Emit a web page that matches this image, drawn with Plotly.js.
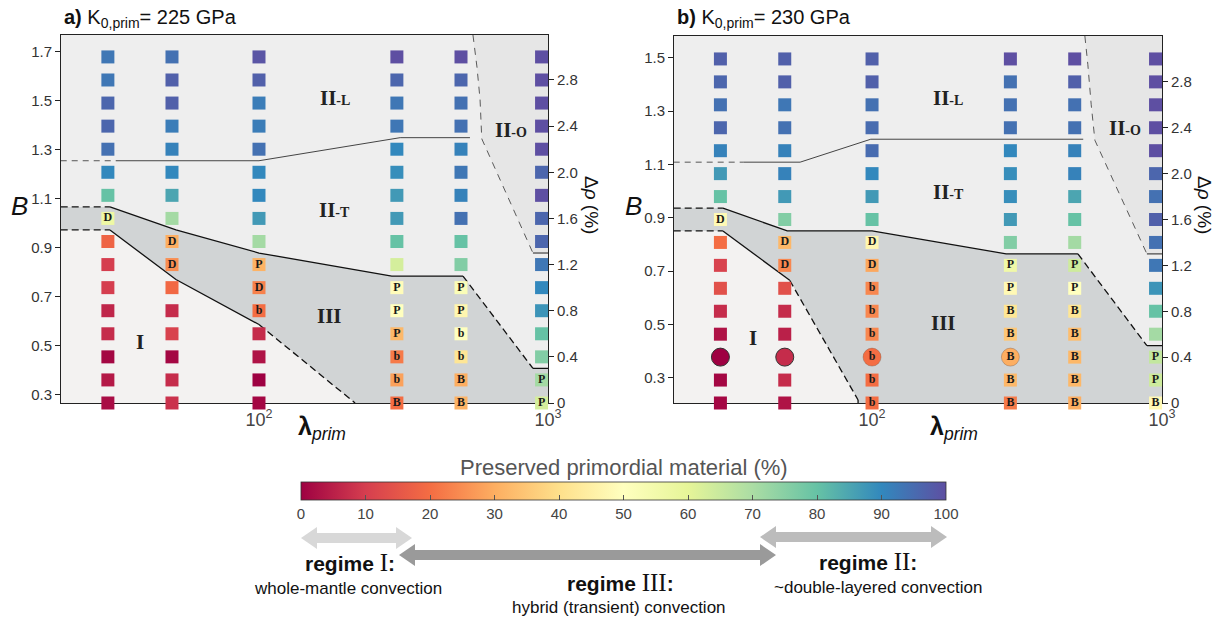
<!DOCTYPE html>
<html><head><meta charset="utf-8">
<script src="https://cdn.plot.ly/plotly-3.0.1.min.js"></script>
<style>html,body{margin:0;padding:0;background:#fff}</style>
</head><body><div id="chart" style="width:1221px;height:623px"></div>
<script>
const W = 1221, H = 623;

// ---------- data ----------
const lambdaCols = [30, 50, 100, 300, 500, 950];
const drhoRows = [0, 0.2, 0.4, 0.6, 0.8, 1.0, 1.2, 1.4, 1.6, 1.8, 2.0, 2.2, 2.4, 2.6, 2.8, 3.0];

// panel a (K0,prim = 225 GPa): preserved primordial material (%), rows bottom -> top
const a30  = [2, 4, 1, 7, 6, 10, 10, 18, 57, 80, 90, 94, 96, 96, 93, 93];
const a50  = [8, 7, 1, 11, 7, 19, 25, 30, 71, 85, 90, 91, 92, 97, 97, 94];
const a100 = [1, 0, 3, 7, 20, 23, 31, 71, 87, 90, 90, 94, 92, 92, 97, 99];
const a300 = [20, 28, 22, 32, 50, 49, 63, 80, 87, 87, 89, 90, 93, 93, 96, 100];
const a500 = [31, 30, 42, 50, 47, 52, 76, 80, 94, 91, 93, 91, 94, 94, 96, 100];
const a950 = [63, 71, 76, 80, 88, 90, 93, 96, 96, 100, 96, 100, 100, 100, 100, 100];
const labA30  = ['','','','','','','','','D','','','','','','',''];
const labA50  = ['','','','','','','D','D','','','','','','','',''];
const labA100 = ['','','','','b','D','P','','','','','','','','',''];
const labA300 = ['B','b','b','P','P','P','','','','','','','','','',''];
const labA500 = ['B','B','b','b','P','P','','','','','','','','','',''];
const labA950 = ['P','P','','','','','','','','','','','','','',''];

// panel b (K0,prim = 230 GPa)
const b30  = [1, 1, 0, 3, 7, 14, 11, 20, 48, 80, 87, 91, 96, 94, 96, 97];
const b50  = [3, 7, 7, 5, 7, 14, 24, 32, 76, 87, 91, 91, 94, 93, 97, 97];
const b100 = [20, 20, 20, 24, 24, 24, 29, 47, 80, 87, 90, 95, 95, 94, 97, 97];
const b300 = [22, 32, 30, 35, 42, 48, 56, 76, 87, 89, 89, 90, 94, 94, 94, 100];
const b500 = [30, 32, 32, 33, 42, 50, 64, 71, 80, 85, 91, 91, 94, 94, 97, 100];
const b950 = [48, 64, 66, 71, 80, 88, 93, 94, 97, 94, 96, 100, 100, 100, 100, 100];
const labB30  = ['','','','','','','','','D','','','','','','',''];
const labB50  = ['','','','','','','D','D','','','','','','','',''];
const labB100 = ['b','b','b','b','b','b','D','D','','','','','','','',''];
const labB300 = ['B','B','B','B','B','P','P','','','','','','','','',''];
const labB500 = ['B','B','B','B','B','P','P','','','','','','','','',''];
const labB950 = ['B','P','P','','','','','','','','','','','','',''];
const circleRowB = 0.4;
const circleColsB = [30, 50, 100, 300];

// regime boundaries (lambda, delta rho)
const aIIupLam = [20.6, 30.5, 51.6, 100, 288, 508], aIIupD = [1.7, 1.7, 1.5, 1.3, 1.1, 1.1];
const aIIIdashLam = [508, 887], aIIIdashD = [1.1, 0.3];
const aLowLam = [20.6, 30.5, 51.6, 100, 215], aLowD = [1.5, 1.5, 1.07, 0.68, 0];
const aLTLam = [20.6, 32, 100, 308, 537], aLTD = [2.1, 2.1, 2.1, 2.3, 2.3];
const aOLam = [550, 568, 582, 590, 887], aOD = [3.19, 2.91, 2.63, 2.29, 1.3];

const bIIupLam = [20.7, 30.6, 51, 100, 290, 513], bIIupD = [1.7, 1.7, 1.5, 1.5, 1.3, 1.3];
const bIIIdashLam = [513, 887], bIIIdashD = [1.3, 0.5];
const bLowLam = [20.7, 30.6, 52, 89.5, 89.5], bLowD = [1.5, 1.5, 1.07, 0.026, 0];
const bLTLam = [20.7, 36, 56.5, 99, 535], bLTD = [2.1, 2.1, 2.1, 2.3, 2.3];
const bOLam = [542, 555, 570, 587, 887], bOD = [3.2, 2.95, 2.6, 2.29, 1.3];

const cbTicks = [0, 10, 20, 30, 40, 50, 60, 70, 80, 90, 100];

// ---------- helpers ----------
const spectral = [[0,'#9e0142'],[0.1,'#d53e4f'],[0.2,'#f46d43'],[0.3,'#fdae61'],[0.4,'#fee08b'],
  [0.5,'#ffffbf'],[0.6,'#e6f598'],[0.7,'#abdda4'],[0.8,'#66c2a5'],[0.9,'#3288bd'],[1,'#5e4fa2']];
const px = x => x / W, py = y => 1 - y / H;
const L10 = Math.log10;

function markerTrace(cols, labs, xa, ya, circCols, circRow) {
  const x=[], y=[], c=[], t=[], sym=[], sz=[], lw=[], lc=[];
  lambdaCols.forEach((lam, i) => {
    drhoRows.forEach((d, j) => {
      const circ = circCols.includes(lam) && d === circRow;
      x.push(lam); y.push(d); c.push(cols[i][j]); t.push(labs[i][j]);
      sym.push(circ ? 'circle' : 'square'); sz.push(circ ? 18 : 13);
      lw.push(circ ? (cols[i][j] < 15 ? 1 : 0.6) : 0);
      lc.push(circ ? (cols[i][j] < 15 ? '#333' : 'rgba(120,80,60,0.6)') : 'rgba(0,0,0,0)');
    });
  });
  return {type:'scatter', mode:'markers+text', x, y, xaxis:xa, yaxis:ya, text:t,
    textposition:'middle center', cliponaxis:false, hoverinfo:'skip', showlegend:false,
    textfont:{family:'Liberation Serif', size:12, color:'#1a1a1a', weight:'bold'},
    marker:{symbol:sym, size:sz, opacity:1, color:c, coloraxis:'coloraxis', line:{width:lw, color:lc}}};
}
function fillTrace(xs, ys, col, xa, ya) {
  return {type:'scatter', mode:'lines', x:xs, y:ys, fill:'toself', fillcolor:col,
    line:{width:0}, xaxis:xa, yaxis:ya, hoverinfo:'skip', showlegend:false};
}
function lineTrace(xs, ys, xa, ya, dash, width, color) {
  return {type:'scatter', mode:'lines', x:xs, y:ys, xaxis:xa, yaxis:ya,
    line:{color:color||'#111', width:width||1.3, dash:dash||'solid'}, hoverinfo:'skip', showlegend:false};
}
// invisible anchor trace so that the B axis subplot exists
function anchorTrace(xa, ya, b) {
  return {type:'scatter', mode:'markers', x:[100], y:[b], xaxis:xa, yaxis:ya,
    marker:{size:1, opacity:0}, hoverinfo:'skip', showlegend:false};
}
function panelTraces(xa, ya, up, dashUp, low, lowSolidEnd, lt, o, lastLam) {
  const tr = [];
  tr.push(fillTrace([o[0][0], ...o[0], lastLam*1.2, lastLam*1.2], [3.5, ...o[1], o[1][o[1].length-1], 3.5], '#e6e6e6', xa, ya));
  const upL = [...up[0], ...dashUp[0].slice(1), lastLam*1.2, lastLam*1.2];
  const upD = [...up[1], ...dashUp[1].slice(1), dashUp[1][1], -0.2];
  const lowRevL = [...low[0]].reverse(), lowRevD = [...low[1]].reverse();
  tr.push(fillTrace([10, ...upL.slice(1), lowRevL[0], ...lowRevL, 10],
                    [up[1][0], ...upD.slice(1), -0.2, ...lowRevD, low[1][0]], '#d1d4d5', xa, ya));
  tr.push(fillTrace([10, ...low[0].slice(1), low[0][low[0].length-1], 10],
                    [low[1][0], ...low[1].slice(1), -0.2, -0.2], '#f3f2f1', xa, ya));
  const dsh = '7px,4px';
  tr.push(lineTrace(up[0].slice(0,2), up[1].slice(0,2), xa, ya, dsh));
  tr.push(lineTrace(up[0].slice(1), up[1].slice(1), xa, ya));
  tr.push(lineTrace(dashUp[0], dashUp[1], xa, ya, dsh));
  tr.push(lineTrace([dashUp[0][1], lastLam*1.2], [dashUp[1][1], dashUp[1][1]], xa, ya));
  const e = lowSolidEnd;
  tr.push(lineTrace(low[0].slice(0,2), low[1].slice(0,2), xa, ya, dsh));
  tr.push(lineTrace(low[0].slice(1,e+1), low[1].slice(1,e+1), xa, ya));
  tr.push(lineTrace(low[0].slice(e,e+2), low[1].slice(e,e+2), xa, ya, dsh));
  if (low[0].length > e+2) tr.push(lineTrace(low[0].slice(e+1), low[1].slice(e+1), xa, ya));
  tr.push(lineTrace(lt[0].slice(0,2), lt[1].slice(0,2), xa, ya, '6px,5px', 1, '#555'));
  tr.push(lineTrace(lt[0].slice(1), lt[1].slice(1), xa, ya, 'solid', 1, '#444'));
  tr.push(lineTrace(o[0], o[1], xa, ya, '7px,6px', 0.8, '#333'));
  tr.push(lineTrace([o[0][o[0].length-1], lastLam*1.2], [o[1][o[1].length-1], o[1][o[1].length-1]], xa, ya, 'solid', 1, '#222'));
  return tr;
}

const data = [
  anchorTrace('x','y',1.0),
  ...panelTraces('x','y2',[aIIupLam,aIIupD],[aIIIdashLam,aIIIdashD],[aLowLam,aLowD],3,[aLTLam,aLTD],[aOLam,aOD],1000),
  markerTrace([a30,a50,a100,a300,a500,a950],[labA30,labA50,labA100,labA300,labA500,labA950],'x','y2',[],null),
  anchorTrace('x2','y3',1.0),
  ...panelTraces('x2','y4',[bIIupLam,bIIupD],[bIIIdashLam,bIIIdashD],[bLowLam,bLowD],2,[bLTLam,bLTD],[bOLam,bOD],1000),
  markerTrace([b30,b50,b100,b300,b500,b950],[labB30,labB50,labB100,labB300,labB500,labB950],'x2','y4',circleColsB,circleRowB)
];

// ---------- axes ----------
const minorVals = [30,40,50,60,70,80,90,200,300,400,500,600,700,800,900];
const tickF = {family:'Liberation Sans', size:15, color:'#333'};
function xAxis(dom, anchor, lo) {
  return {domain:dom, anchor, type:'log', range:[L10(lo), 3], showline:true, linecolor:'#222', linewidth:1,
    mirror:true, ticks:'inside', ticklen:6, tickcolor:'#222', tickvals:[100,1000],
    ticktext:['10<sup>2</sup>','10<sup>3</sup>'], tickfont:{family:'Liberation Sans', size:18, color:'#444'},
    minor:{tickvals:minorVals, ticks:'inside', ticklen:4, tickcolor:'#333'},
    showgrid:false, zeroline:false, layer:'below traces', fixedrange:true};
}
function bAxis(dom, anchor, b0, k, top, tv) {
  return {domain:dom, anchor, range:[b0, b0 + k*top], tickvals:tv, tickformat:'.1f', ticks:'outside', ticklen:5,
    tickcolor:'#222', showline:true, linecolor:'#222', showgrid:false, zeroline:false, tickfont:tickF, layer:'below traces'};
}
function dAxis(over, anchor, top) {
  return {overlaying:over, side:'right', anchor, range:[0, top], tickvals:[0,0.4,0.8,1.2,1.6,2.0,2.4,2.8],
    ticktext:['0','0.4','0.8','1.2','1.6','2.0','2.4','2.8'], ticks:'outside', ticklen:5, tickcolor:'#222',
    showline:true, linecolor:'#222', showgrid:false, zeroline:false, tickfont:tickF, layer:'below traces'};
}

// ---------- arrows (decorative shapes) ----------
function dblArrow(x1, x2, yc, h, Hh, L, col) {
  const pts = [[x1,yc],[x1+L,yc-Hh],[x1+L,yc-h],[x2-L,yc-h],[x2-L,yc-Hh],[x2,yc],[x2-L,yc+Hh],[x2-L,yc+h],[x1+L,yc+h],[x1+L,yc+Hh]];
  return {type:'path', xref:'paper', yref:'paper', path:'M' + pts.map(p => px(p[0]) + ',' + py(p[1])).join('L') + 'Z',
    fillcolor:col, line:{width:0}, layer:'above'};
}

const roman = s => `<span style="font-family:'Liberation Serif';font-size:25px;font-weight:normal">${s}</span>`;
const ann = [];
function A(x, y, text, size, opts) {
  ann.push(Object.assign({xref:'paper', yref:'paper', x:px(x), y:py(y), text, showarrow:false,
    xanchor:'center', yanchor:'middle', font:{family:'Liberation Sans', size, color:'#111'}}, opts||{}));
}
A(62, 19, '<b>a)</b> K<sub>0,prim</sub>= 225 GPa', 20, {xanchor:'left'});
A(675, 19, '<b>b)</b> K<sub>0,prim</sub>= 230 GPa', 20, {xanchor:'left'});
A(19, 206, '<i>B</i>', 26);
A(633, 206, '<i>B</i>', 26);
A(322, 428, '<b>λ</b><sub><i>prim</i></sub>', 25);
A(954, 428, '<b>λ</b><sub><i>prim</i></sub>', 25);
A(592, 205, 'Δ<i>ρ</i> (%)', 19, {textangle:90});
A(1205, 205, 'Δ<i>ρ</i> (%)', 19, {textangle:90});
A(624, 467, 'Preserved primordial material (%)', 22, {font:{family:'Liberation Sans', size:22, color:'#555'}});
A(350, 562, '<b>regime </b>' + roman('I') + '<b>:</b>', 21);
A(348, 588, 'whole-mantle convection', 17);
A(620, 582, '<b>regime </b>' + roman('III') + '<b>:</b>', 21);
A(619, 607, 'hybrid (transient) convection', 17);
A(868, 561, '<b>regime </b>' + roman('II') + '<b>:</b>', 21);
A(878, 587, '~double-layered convection', 17);

function R(xa, ya, lam, d, main, small) {
  ann.push({xref:xa, yref:ya, x:L10(lam), y:d, showarrow:false, xanchor:'center', yanchor:'middle',
    text: main + (small ? `<span style="font-size:14px">-${small}</span>` : ''),
    font:{family:'Liberation Serif', size:21, color:'#222', weight:'bold'}});
}
R('x','y2',183,2.64,'II','L'); R('x','y2',745,2.37,'II','O'); R('x','y2',183,1.67,'II','T');
R('x','y2',176,0.75,'III'); R('x','y2',38.7,0.53,'I');
R('x2','y4',183,2.66,'II','L'); R('x2','y4',745,2.40,'II','O'); R('x2','y4',183,1.84,'II','T');
R('x2','y4',176,0.70,'III'); R('x2','y4',38.9,0.57,'I');

const layout = {
  width:W, height:H, margin:{l:0, r:0, t:0, b:0}, paper_bgcolor:'#fff', plot_bgcolor:'#eeeeee',
  font:{family:'Liberation Sans', color:'#222'}, showlegend:false,
  xaxis: xAxis([61/W, 548/W], 'y', 20.65),
  yaxis: bAxis([1-403/H, 1-35/H], 'x', 0.2673, 0.4708, 3.19, [0.3,0.5,0.7,0.9,1.1,1.3,1.5,1.7]),
  yaxis2: dAxis('y', 'x', 3.19),
  xaxis2: xAxis([674/W, 1162/W], 'y3', 20.75),
  yaxis3: bAxis([1-403/H, 1-36/H], 'x2', 0.206, 0.430, 3.2, [0.3,0.5,0.7,0.9,1.1,1.3,1.5]),
  yaxis4: dAxis('y3', 'x2', 3.2),
  coloraxis:{cmin:0, cmax:100, colorscale:spectral, colorbar:{orientation:'h', x:623.5/W, xanchor:'center',
    y:1-482/H, yanchor:'top', len:645/W, lenmode:'fraction', thickness:18, thicknessmode:'pixels',
    outlinewidth:0.8, outlinecolor:'#333', tickvals:cbTicks, ticks:'inside', ticklen:5, tickcolor:'#555',
    tickfont:{family:'Liberation Sans', size:15, color:'#444'}, xpad:0, ypad:0}},
  shapes:[
    dblArrow(301, 412, 538, 5, 11, 16, '#d8d8d8'),
    dblArrow(760, 947, 537, 5, 11, 16, '#bcbcbc'),
    dblArrow(399, 776, 555, 5, 11, 16, '#9a9a9a')
  ],
  annotations: ann
};

Plotly.newPlot('chart', data, layout, {displayModeBar:false, staticPlot:true});
</script></body></html>
